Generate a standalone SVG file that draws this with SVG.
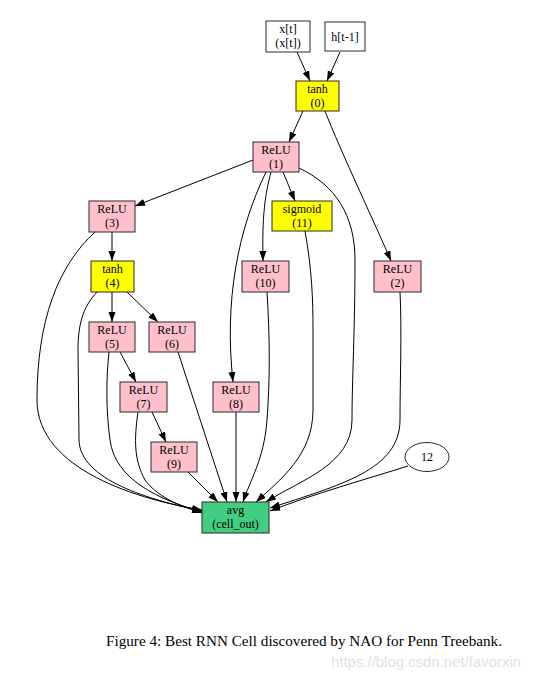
<svg xmlns="http://www.w3.org/2000/svg" width="541" height="680" viewBox="0 0 541 680">
<defs>
<marker id="ah" markerUnits="userSpaceOnUse" markerWidth="11" markerHeight="8" refX="10" refY="3.5" orient="auto">
<path d="M0,0 L10,3.5 L0,7 z" fill="#000"/>
</marker>
<style>
.n rect, .n ellipse { stroke: #2a2a2a; stroke-width: 1; }
.w rect { fill: #ffffff; }
.y rect { fill: #ffff00; }
.p rect { fill: #ffc0cb; }
.g rect { fill: #43cd80; }
.n text { font-family: "Liberation Serif", "Times New Roman", serif; font-size: 12px; fill: #000; text-anchor: middle; }
#edges path { fill: none; stroke: #000; stroke-width: 1; marker-end: url(#ah); }
.cap { font-family: "Liberation Serif", "Times New Roman", serif; font-size: 15.5px; fill: #000; }
.wm { font-family: "Liberation Sans", Arial, sans-serif; font-size: 14px; fill: #e2e2e2; }
</style>
</defs>
<rect x="0" y="0" width="541" height="680" fill="#fff"/>

<g id="edges">
<path d="M297,52 L310,81"/>
<path d="M340,52 L327,81"/>
<path d="M303,111 L289,142"/>
<path d="M325,111 C340,150 378,230 391,261"/>
<path d="M253,160 L135,206"/>
<path d="M283,172 L295,201"/>
<path d="M271,172 C265,195 262,215 263,261"/>
<path d="M266,172 C238,230 224,300 233,382"/>
<path d="M299,168 C335,185 355,215 355,260 C355,330 352,380 352,420 C352,465 300,480 266,502"/>
<path d="M305,231 C312,270 313,300 313,330 L313,410 C313,455 280,480 256,502"/>
<path d="M267,292 C270,340 270,380 267,420 C264,460 250,480 243,502"/>
<path d="M236,412 L236,502"/>
<path d="M400,292 C402,330 400,380 400,420 C400,470 340,485 270,508"/>
<path d="M408,466 C370,478 310,495 270,511"/>
<path d="M112,232 L112,261"/>
<path d="M95,232 C58,266 37,320 37,400 C37,470 140,500 202,510"/>
<path d="M112,292 L112,322"/>
<path d="M127,292 L158,322"/>
<path d="M97,292 C85,305 78,320 78,350 L79,440 C80,480 150,500 202,511"/>
<path d="M120,352 L136,382"/>
<path d="M109,352 C106,380 106,410 110,440 C115,480 160,500 202,512"/>
<path d="M178,352 L227,502"/>
<path d="M152,412 L166,442"/>
<path d="M138,412 C134,440 134,460 145,480 C160,500 185,507 202,513"/>
<path d="M188,472 L218,502"/>
</g>

<g id="node-xt" class="n w"><rect x="266" y="21" width="44" height="31"/><text x="288" y="33">x[t]</text><text x="288" y="47">(x[t])</text></g>
<g id="node-ht1" class="n w"><rect x="325" y="22" width="40" height="29"/><text x="345" y="40.5">h[t-1]</text></g>
<g id="node-0" class="n y"><rect x="296" y="81" width="43" height="30"/><text x="317.5" y="93">tanh</text><text x="317.5" y="107">(0)</text></g>
<g id="node-1" class="n p"><rect x="253" y="142" width="46" height="30"/><text x="276" y="154">ReLU</text><text x="276" y="168">(1)</text></g>
<g id="node-11" class="n y"><rect x="272" y="201" width="60" height="30"/><text x="302" y="213">sigmoid</text><text x="302" y="227">(11)</text></g>
<g id="node-3" class="n p"><rect x="89" y="201" width="46" height="31"/><text x="112" y="213">ReLU</text><text x="112" y="227">(3)</text></g>
<g id="node-4" class="n y"><rect x="91" y="261" width="43" height="31"/><text x="112.5" y="273">tanh</text><text x="112.5" y="287">(4)</text></g>
<g id="node-10" class="n p"><rect x="242" y="261" width="47" height="31"/><text x="265.5" y="273">ReLU</text><text x="265.5" y="287">(10)</text></g>
<g id="node-2" class="n p"><rect x="374" y="261" width="47" height="31"/><text x="397.5" y="273">ReLU</text><text x="397.5" y="287">(2)</text></g>
<g id="node-5" class="n p"><rect x="89" y="322" width="46" height="30"/><text x="112" y="334">ReLU</text><text x="112" y="348">(5)</text></g>
<g id="node-6" class="n p"><rect x="149" y="322" width="46" height="30"/><text x="172" y="334">ReLU</text><text x="172" y="348">(6)</text></g>
<g id="node-7" class="n p"><rect x="120" y="382" width="47" height="30"/><text x="143.5" y="394">ReLU</text><text x="143.5" y="408">(7)</text></g>
<g id="node-8" class="n p"><rect x="213" y="382" width="46" height="30"/><text x="236" y="394">ReLU</text><text x="236" y="408">(8)</text></g>
<g id="node-9" class="n p"><rect x="151" y="442" width="46" height="30"/><text x="174" y="454">ReLU</text><text x="174" y="468">(9)</text></g>
<g id="node-12" class="n"><ellipse cx="427" cy="457" rx="22" ry="14.5" fill="#fff"/><text x="427" y="461">12</text></g>
<g id="node-avg" class="n g"><rect x="202" y="502" width="67" height="31"/><text x="235.5" y="514">avg</text><text x="235.5" y="528">(cell_out)</text></g>

<text class="cap" x="106" y="646" textLength="396" lengthAdjust="spacingAndGlyphs">Figure 4: Best RNN Cell discovered by NAO for Penn Treebank.</text>
<text class="wm" x="331" y="667" textLength="190" lengthAdjust="spacingAndGlyphs">https://blog.csdn.net/favorxin</text>
</svg>
